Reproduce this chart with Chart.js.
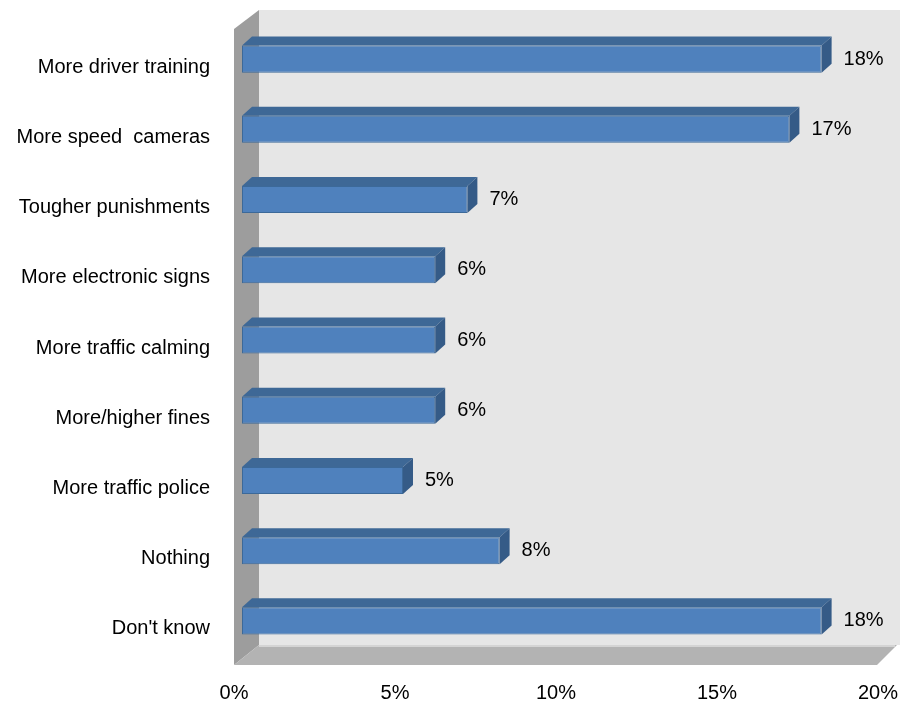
<!DOCTYPE html>
<html lang="en">
<head>
    <script src="https://cdn.jsdelivr.net/npm/chart.js"></script>
    <meta charset="UTF-8">
    <title>Road safety</title>
    <style>
        body { margin: 0; background: #fff; }
        #wrap { width: 900px; height: 706px; }
    </style>
</head>
<body>
<div id="wrap"><canvas id="chart" width="900" height="706"></canvas></div>
<script>
      var categories = ['More driver training', 'More speed  cameras', 'Tougher punishments', 'More electronic signs',
                        'More traffic calming', 'More/higher fines', 'More traffic police', 'Nothing', "Don't know"];
      var percentages = [18, 17, 7, 6, 6, 6, 5, 8, 18];
      var xTicks = [0, 5, 10, 15, 20];

      var fontFamily = '"Liberation Sans", Arial, sans-serif';

      // depth of the 3d box and of each bar
      var depth = { dx: 10, dy: -9 };

      // walls, floor and the extruded faces of each bar
      var box3d = {
        id: 'box3d',
        beforeDatasetsDraw: function(chart) {
          var c = chart.ctx, a = chart.chartArea;
          var bl = a.left + 17, bt = a.top - 14, bb = a.bottom - 11;
          var fl = a.left - 8, fb = a.bottom + 9;
          c.save();
          c.fillStyle = '#e6e6e6';
          c.fillRect(bl, bt, chart.width - bl, bb - bt);
          // left side wall
          c.fillStyle = '#9d9d9d';
          c.beginPath();
          c.moveTo(fl, bt + 19); c.lineTo(bl, bt); c.lineTo(bl, bb); c.lineTo(fl, fb);
          c.closePath(); c.fill();
          // floor
          c.fillStyle = '#b3b3b3';
          c.beginPath();
          c.moveTo(bl, bb); c.lineTo(a.right + 11, bb); c.lineTo(a.right - 9, fb); c.lineTo(fl, fb);
          c.closePath(); c.fill();
          c.fillStyle = '#d4d4d4';
          c.fillRect(bl, bb, a.right + 9 - bl, 2);
          c.restore();
        },
        afterDatasetsDraw: function(chart) {
          var c = chart.ctx;
          var bars = chart.getDatasetMeta(0).data;
          c.save();
          bars.forEach(function(bar, i) {
            var p = bar.getProps(['x', 'y', 'base', 'height'], true);
            var top = p.y - p.height / 2, bot = p.y + p.height / 2;
            // top face
            c.fillStyle = '#3e6896';
            c.beginPath();
            c.moveTo(p.base, top); c.lineTo(p.base + depth.dx, top + depth.dy);
            c.lineTo(p.x + depth.dx, top + depth.dy); c.lineTo(p.x, top);
            c.closePath(); c.fill();
            // end face
            c.fillStyle = '#355b87';
            c.beginPath();
            c.moveTo(p.x, top); c.lineTo(p.x + depth.dx, top + depth.dy);
            c.lineTo(p.x + depth.dx, bot + depth.dy); c.lineTo(p.x, bot);
            c.closePath(); c.fill();
            // value label
            c.fillStyle = '#000';
            c.font = '20px ' + fontFamily;
            c.textBaseline = 'middle';
            c.textAlign = 'left';
            c.fillText(percentages[i] + '%', p.x + depth.dx + 12, p.y);
          });
          c.restore();
        }
      };

      var ctx = document.getElementById('chart').getContext('2d');
      var chart = new Chart(ctx, {
        type: 'bar',
        data: {
          labels: categories,
          datasets: [{
            data: percentages,
            backgroundColor: '#4f81bd',
            borderColor: '#3c6999',
            borderWidth: 1,
            borderSkipped: false,
            categoryPercentage: 1,
            barPercentage: 0.385
          }]
        },
        options: {
          indexAxis: 'y',
          responsive: false,
          animation: false,
          layout: { padding: { top: 24, right: 14, left: 0, bottom: 0 } },
          plugins: { legend: { display: false }, tooltip: { enabled: false } },
          scales: {
            x: {
              min: 0, max: 20,
              afterBuildTicks: function(s) { s.ticks = xTicks.map(function(v) { return { value: v }; }); },
              afterFit: function(s) { s.height = 50; s.paddingLeft = 0; s.paddingRight = 0; },
              grid: { display: false, drawTicks: false },
              border: { display: false },
              ticks: {
                color: '#000',
                font: { family: fontFamily, size: 20 },
                padding: 25,
                labelOffset: -8,
                maxRotation: 0,
                callback: function(v) { return v + '%'; }
              }
            },
            y: {
              afterFit: function(s) { s.width = 242; s.paddingTop = 0; s.paddingBottom = 0; },
              grid: { display: false, drawTicks: false },
              border: { display: false },
              ticks: {
                color: '#000',
                font: { family: fontFamily, size: 20 },
                padding: 32,
                labelOffset: 8
              }
            }
          }
        },
        plugins: [box3d]
      });
</script>
</body>
</html>
